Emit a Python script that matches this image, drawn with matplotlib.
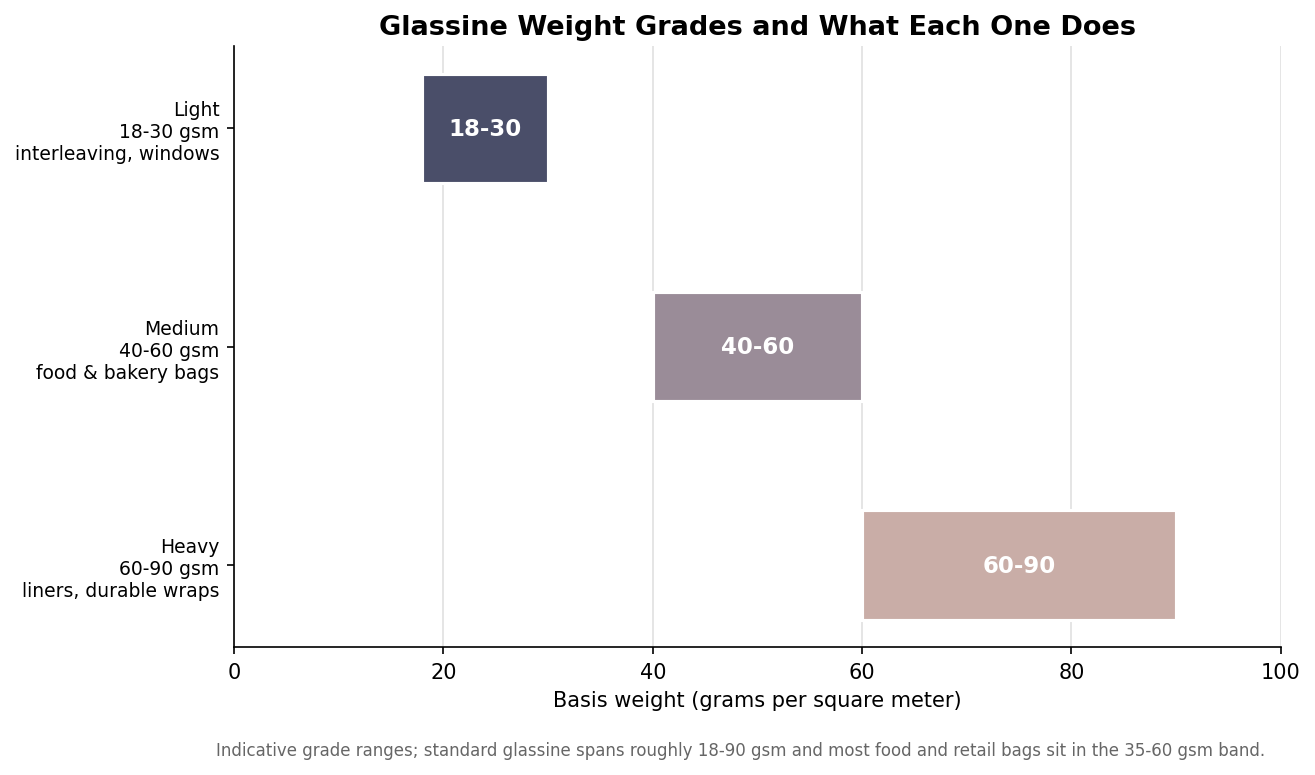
import matplotlib.pyplot as plt

# grade ranges in gsm
grades = ["Light\n18-30 gsm\ninterleaving, windows",
          "Medium\n40-60 gsm\nfood & bakery bags",
          "Heavy\n60-90 gsm\nliners, durable wraps"]
low = [18, 40, 60]
high = [30, 60, 90]
labels = ["18-30", "40-60", "60-90"]
colors = ["#4a4e69", "#9a8c98", "#c9ada7"]

fig, ax = plt.subplots(figsize=(1315 / 150, 776 / 150), dpi=150)
fig.subplots_adjust(left=0.178, right=0.974, top=0.939, bottom=0.165)

widths = [h - l for l, h in zip(low, high)]
bars = ax.barh(range(len(grades)), widths, left=low, height=0.5,
               color=colors, edgecolor="white", linewidth=1.5, zorder=3)
for b, txt in zip(bars, labels):
    ax.text(b.get_x() + b.get_width() / 2, b.get_y() + b.get_height() / 2, txt,
            ha="center", va="center", color="white", fontsize=11,
            fontweight="bold", zorder=4)

ax.set_yticks(range(len(grades)))
ax.set_yticklabels(grades, fontsize=9)
ax.invert_yaxis()
ax.set_xlim(0, 100)
ax.tick_params(axis="x", labelsize=10)
ax.set_xlabel("Basis weight (grams per square meter)", fontsize=10)
ax.set_title("Glassine Weight Grades and What Each One Does",
             fontsize=13, fontweight="bold")
ax.grid(axis="x", color="#e0e0e0", linewidth=0.8, zorder=0)
ax.spines["top"].set_visible(False)
ax.spines["right"].set_visible(False)

fig.text(0.962, 0.02,
         "Indicative grade ranges; standard glassine spans roughly 18-90 gsm "
         "and most food and retail bags sit in the 35-60 gsm band.",
         ha="right", va="bottom", fontsize=8, color="#666666")

fig.savefig("out.png", dpi=150)
